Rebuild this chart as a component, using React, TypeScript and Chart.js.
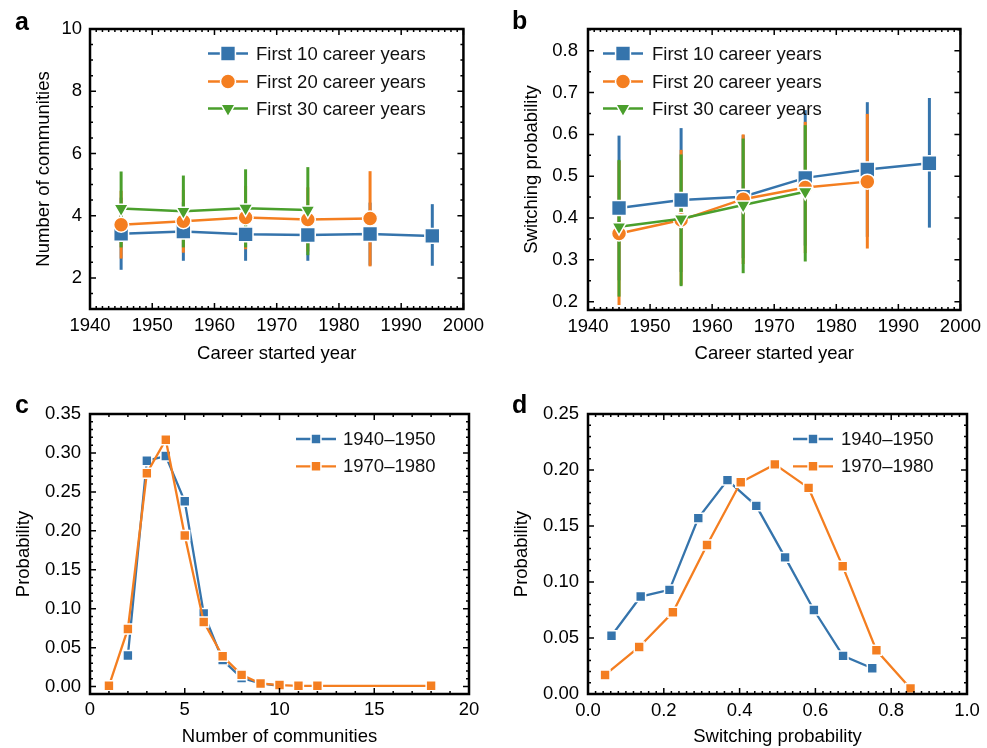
import React, { useEffect, useRef } from 'react';
import { Chart, registerables } from 'chart.js';

Chart.register(...registerables);

const FONT_FAMILY = '"Liberation Sans", Arial, Helvetica, sans-serif';
const BLUE = '#3574ac';
const ORANGE = '#f47e20';
const GREEN = '#4a9f2c';

// ---------- Panel a: number of communities vs career started year ----------
const careerStartYears = [1945, 1955, 1965, 1975, 1985, 1995];
const aFirst10Mean = [3.42, 3.49, 3.4, 3.38, 3.41, 3.35];
const aFirst10Low = [2.26, 2.55, 2.55, 2.55, 2.4, 2.39];
const aFirst10High = [4.58, 4.43, 4.25, 4.21, 4.42, 4.37];
const aFirst20Mean = [3.71, 3.82, 3.94, 3.88, 3.91];
const aFirst20Low = [2.62, 2.81, 2.92, 2.85, 2.37];
const aFirst20High = [4.8, 4.83, 4.96, 4.91, 5.43];
const aFirst30Mean = [4.23, 4.14, 4.24, 4.18];
const aFirst30Low = [2.98, 2.98, 2.98, 2.73];
const aFirst30High = [5.42, 5.29, 5.49, 5.56];

// ---------- Panel b: switching probability vs career started year ----------
const bFirst10Mean = [0.424, 0.443, 0.451, 0.496, 0.516, 0.531];
const bFirst10Low = [0.251, 0.271, 0.304, 0.334, 0.355, 0.377];
const bFirst10High = [0.597, 0.615, 0.598, 0.658, 0.677, 0.687];
const bFirst20Mean = [0.363, 0.395, 0.445, 0.473, 0.487];
const bFirst20Low = [0.192, 0.24, 0.29, 0.316, 0.327];
const bFirst20High = [0.536, 0.563, 0.6, 0.63, 0.649];
const bFirst30Mean = [0.379, 0.398, 0.431, 0.463];
const bFirst30Low = [0.212, 0.237, 0.268, 0.296];
const bFirst30High = [0.539, 0.552, 0.59, 0.622];

// ---------- Panel c: distribution of number of communities ----------
const cEarlyX = [2, 3, 4, 5, 6, 7, 8, 9, 10];
const cEarlyProb = [0.04, 0.29, 0.296, 0.238, 0.094, 0.034, 0.011, 0.004, 0.001];
const cLateX = [1, 2, 3, 4, 5, 6, 7, 8, 9, 10, 11, 12, 18];
const cLateProb = [0.001, 0.074, 0.274, 0.317, 0.194, 0.083, 0.039, 0.015, 0.004, 0.002, 0.001, 0.001, 0.001];

// ---------- Panel d: distribution of switching probability ----------
const dEarlyX = [0.062, 0.139, 0.215, 0.291, 0.368, 0.444, 0.52, 0.596, 0.673, 0.75];
const dEarlyProb = [0.052, 0.087, 0.093, 0.157, 0.191, 0.168, 0.122, 0.075, 0.034, 0.023];
const dLateX = [0.045, 0.135, 0.224, 0.314, 0.403, 0.493, 0.582, 0.672, 0.761, 0.851];
const dLateProb = [0.017, 0.042, 0.073, 0.133, 0.189, 0.205, 0.184, 0.114, 0.039, 0.005];

// ---------- Tick values & labels ----------
const yearTicks = [1940, 1950, 1960, 1970, 1980, 1990, 2000];
const yearTickLabels = ['1940', '1950', '1960', '1970', '1980', '1990', '2000'];
const aYTicks = [2, 4, 6, 8, 10];
const aYTickLabels = ['2', '4', '6', '8', '10'];
const bYTicks = [0.2, 0.3, 0.4, 0.5, 0.6, 0.7, 0.8];
const bYTickLabels = ['0.2', '0.3', '0.4', '0.5', '0.6', '0.7', '0.8'];
const cXTicks = [0, 5, 10, 15, 20];
const cXTickLabels = ['0', '5', '10', '15', '20'];
const cYTicks = [0, 0.05, 0.1, 0.15, 0.2, 0.25, 0.3, 0.35];
const cYTickLabels = ['0.00', '0.05', '0.10', '0.15', '0.20', '0.25', '0.30', '0.35'];
const dXTicks = [0, 0.2, 0.4, 0.6, 0.8, 1.0];
const dXTickLabels = ['0.0', '0.2', '0.4', '0.6', '0.8', '1.0'];
const dYTicks = [0, 0.05, 0.1, 0.15, 0.2, 0.25];
const dYTickLabels = ['0.00', '0.05', '0.10', '0.15', '0.20', '0.25'];

const seriesLabelsCareer = ['First 10 career years', 'First 20 career years', 'First 30 career years'];
const seriesLabelsPeriod = ['1940\u20131950', '1970\u20131980'];

type ErrSet = { xs: number[]; low: number[]; high: number[]; color: string };
type LegendRow = { label: string; color: string; style: string; radius: number; y: number };

type Spec = {
  letter: string;
  letterX: number;
  letterY: number;
  left: number;
  top: number;
  width: number;
  height: number;
  padTop: number;
  padRight: number;
  yAxisWidth: number;
  xAxisHeight: number;
  xMin: number;
  xMax: number;
  yMin: number;
  yMax: number;
  xTicks: number[];
  xLabels: string[];
  yTicks: number[];
  yLabels: string[];
  xMinor: number;
  yMinor: number;
  xTitle: string;
  yTitle: string;
  xTitlePad: number;
  yTitlePad: number;
  xTickPad: number;
  yTickPad: number;
  lineWidth: number;
  datasets: any[];
  errors: ErrSet[];
  legendMarkerX: number;
  legendTextX: number;
  legendRows: LegendRow[];
};

function series(label: string, xs: number[], ys: number[], color: string, style: string, radius: number, lw: number, order: number) {
  return {
    type: 'line',
    label,
    data: ys.map((y, i) => ({ x: xs[i], y })),
    borderColor: color,
    backgroundColor: color,
    borderWidth: lw,
    pointStyle: style === 'triangleDown' ? 'triangle' : style,
    rotation: style === 'triangleDown' ? 180 : 0,
    pointRotation: style === 'triangleDown' ? 180 : 0,
    pointRadius: radius,
    pointHoverRadius: radius,
    pointBackgroundColor: color,
    pointBorderColor: '#ffffff',
    pointBorderWidth: 1.5,
    tension: 0,
    clip: false,
    order,
  };
}

function drawMarker(ctx: CanvasRenderingContext2D, style: string, x: number, y: number, r: number, fill: string) {
  ctx.beginPath();
  if (style === 'rect') {
    const s = Math.SQRT1_2 * r;
    ctx.rect(x - s, y - s, 2 * s, 2 * s);
  } else if (style === 'circle') {
    ctx.arc(x, y, r, 0, Math.PI * 2);
  } else {
    ctx.moveTo(x, y + r);
    ctx.lineTo(x - 0.866 * r, y - 0.5 * r);
    ctx.lineTo(x + 0.866 * r, y - 0.5 * r);
    ctx.closePath();
  }
  ctx.fillStyle = fill;
  ctx.fill();
  ctx.strokeStyle = '#ffffff';
  ctx.lineWidth = 1.5;
  ctx.stroke();
}

function makeDecor(spec: Spec) {
  return {
    id: 'decor' + spec.letter,
    beforeDatasetsDraw(chart: any) {
      const ctx: CanvasRenderingContext2D = chart.ctx;
      const xs = chart.scales.x;
      const ys = chart.scales.y;
      ctx.save();
      ctx.lineWidth = 3;
      ctx.lineCap = 'butt';
      spec.errors.forEach((e) => {
        ctx.strokeStyle = e.color;
        e.low.forEach((lo, i) => {
          const px = xs.getPixelForValue(e.xs[i]);
          ctx.beginPath();
          ctx.moveTo(px, ys.getPixelForValue(lo));
          ctx.lineTo(px, ys.getPixelForValue(e.high[i]));
          ctx.stroke();
        });
      });
      ctx.restore();
    },
    afterDraw(chart: any) {
      const ctx: CanvasRenderingContext2D = chart.ctx;
      const ca = chart.chartArea;
      const xs = chart.scales.x;
      const ys = chart.scales.y;
      ctx.save();
      // ticks (inward, all four sides)
      ctx.strokeStyle = '#000';
      ctx.lineWidth = 1.5;
      ctx.beginPath();
      const near = (v: number, arr: number[], step: number) => arr.some((m) => Math.abs(m - v) < step * 1e-3);
      const xTick = (v: number, len: number) => {
        const p = xs.getPixelForValue(v);
        ctx.moveTo(p, ca.bottom);
        ctx.lineTo(p, ca.bottom - len);
        ctx.moveTo(p, ca.top);
        ctx.lineTo(p, ca.top + len);
      };
      const yTick = (v: number, len: number) => {
        const p = ys.getPixelForValue(v);
        ctx.moveTo(ca.left, p);
        ctx.lineTo(ca.left + len, p);
        ctx.moveTo(ca.right, p);
        ctx.lineTo(ca.right - len, p);
      };
      spec.xTicks.forEach((v) => xTick(v, 6));
      spec.yTicks.forEach((v) => yTick(v, 6));
      for (let k = Math.ceil(spec.xMin / spec.xMinor - 1e-6); k * spec.xMinor <= spec.xMax + 1e-9; k++) {
        const v = k * spec.xMinor;
        if (!near(v, spec.xTicks, spec.xMinor)) xTick(v, 3);
      }
      for (let k = Math.ceil(spec.yMin / spec.yMinor - 1e-6); k * spec.yMinor <= spec.yMax + 1e-9; k++) {
        const v = k * spec.yMinor;
        if (!near(v, spec.yTicks, spec.yMinor)) yTick(v, 3);
      }
      ctx.stroke();
      // frame
      ctx.lineWidth = 2.5;
      ctx.strokeRect(ca.left, ca.top, ca.right - ca.left, ca.bottom - ca.top);
      // legend
      spec.legendRows.forEach((row) => {
        ctx.strokeStyle = row.color;
        ctx.lineWidth = spec.lineWidth;
        ctx.beginPath();
        ctx.moveTo(spec.legendMarkerX - 20, row.y);
        ctx.lineTo(spec.legendMarkerX + 20, row.y);
        ctx.stroke();
        drawMarker(ctx, row.style, spec.legendMarkerX, row.y, row.radius, row.color);
        ctx.fillStyle = '#111';
        ctx.font = '18.5px ' + FONT_FAMILY;
        ctx.textAlign = 'left';
        ctx.textBaseline = 'middle';
        ctx.fillText(row.label, spec.legendTextX, row.y + 1);
      });
      // panel letter
      ctx.fillStyle = '#000';
      ctx.font = 'bold 25px ' + FONT_FAMILY;
      ctx.textAlign = 'left';
      ctx.textBaseline = 'alphabetic';
      ctx.fillText(spec.letter, spec.letterX, spec.letterY);
      ctx.restore();
    },
  };
}

function buildChart(canvas: HTMLCanvasElement, spec: Spec) {
  const font = { family: FONT_FAMILY, size: 18.5 };
  return new Chart(canvas, {
    type: 'line',
    data: { datasets: spec.datasets },
    options: {
      responsive: false,
      maintainAspectRatio: false,
      devicePixelRatio: 1,
      animation: false,
      layout: { padding: { top: spec.padTop, right: spec.padRight, left: 0, bottom: 0 } },
      plugins: { legend: { display: false }, tooltip: { enabled: false } },
      scales: {
        x: {
          type: 'linear',
          min: spec.xMin,
          max: spec.xMax,
          grid: { display: false, drawTicks: false },
          border: { display: false },
          afterBuildTicks: (s: any) => {
            s.ticks = spec.xTicks.map((v) => ({ value: v }));
          },
          afterFit: (s: any) => {
            s.height = spec.xAxisHeight;
          },
          ticks: {
            autoSkip: false,
            maxRotation: 0,
            padding: spec.xTickPad,
            color: '#000',
            font,
            callback: (v: any, i: number) => spec.xLabels[i],
          },
          title: {
            display: true,
            text: spec.xTitle,
            color: '#000',
            font,
            padding: { top: 0, bottom: spec.xTitlePad },
          },
        },
        y: {
          type: 'linear',
          min: spec.yMin,
          max: spec.yMax,
          grid: { display: false, drawTicks: false },
          border: { display: false },
          afterBuildTicks: (s: any) => {
            s.ticks = spec.yTicks.map((v) => ({ value: v }));
          },
          afterFit: (s: any) => {
            s.width = spec.yAxisWidth;
          },
          ticks: {
            autoSkip: false,
            padding: spec.yTickPad,
            color: '#000',
            font,
            callback: (v: any, i: number) => spec.yLabels[i],
          },
          title: {
            display: true,
            text: spec.yTitle,
            color: '#000',
            font,
            padding: { top: spec.yTitlePad, bottom: 0 },
          },
        },
      },
    } as any,
    plugins: [makeDecor(spec)],
  } as any);
}

const specs: Spec[] = [
  {
    letter: 'a', letterX: 15, letterY: 30,
    left: 0, top: 0, width: 490, height: 380,
    padTop: 29, padRight: 21, yAxisWidth: 90, xAxisHeight: 71,
    xMin: 1940, xMax: 2000, yMin: 1, yMax: 10,
    xTicks: yearTicks, xLabels: yearTickLabels, yTicks: aYTicks, yLabels: aYTickLabels,
    xMinor: 1, yMinor: 0.5,
    xTitle: 'Career started year', yTitle: 'Number of communities',
    xTitlePad: 15, yTitlePad: 33, xTickPad: 6, yTickPad: 8,
    lineWidth: 2.5,
    datasets: [
      series(seriesLabelsCareer[0], careerStartYears, aFirst10Mean, BLUE, 'rect', 10.5, 2.5, 3),
      series(seriesLabelsCareer[1], careerStartYears, aFirst20Mean, ORANGE, 'circle', 7.5, 2.5, 2),
      series(seriesLabelsCareer[2], careerStartYears, aFirst30Mean, GREEN, 'triangleDown', 8.3, 2.5, 1),
    ],
    errors: [
      { xs: careerStartYears, low: aFirst10Low, high: aFirst10High, color: BLUE },
      { xs: careerStartYears, low: aFirst20Low, high: aFirst20High, color: ORANGE },
      { xs: careerStartYears, low: aFirst30Low, high: aFirst30High, color: GREEN },
    ],
    legendMarkerX: 228, legendTextX: 256,
    legendRows: [
      { label: seriesLabelsCareer[0], color: BLUE, style: 'rect', radius: 10.5, y: 53.5 },
      { label: seriesLabelsCareer[1], color: ORANGE, style: 'circle', radius: 7.5, y: 81.5 },
      { label: seriesLabelsCareer[2], color: GREEN, style: 'triangleDown', radius: 8.3, y: 108.5 },
    ],
  },
  {
    letter: 'b', letterX: 22, letterY: 29,
    left: 490, top: 0, width: 497, height: 380,
    padTop: 29, padRight: 20, yAxisWidth: 98, xAxisHeight: 70,
    xMin: 1940, xMax: 2000, yMin: 0.18, yMax: 0.852,
    xTicks: yearTicks, xLabels: yearTickLabels, yTicks: bYTicks, yLabels: bYTickLabels,
    xMinor: 1, yMinor: 0.05,
    xTitle: 'Career started year', yTitle: 'Switching probability',
    xTitlePad: 15, yTitlePad: 31, xTickPad: 6, yTickPad: 10,
    lineWidth: 2.5,
    datasets: [
      series(seriesLabelsCareer[0], careerStartYears, bFirst10Mean, BLUE, 'rect', 10.5, 2.5, 3),
      series(seriesLabelsCareer[1], careerStartYears, bFirst20Mean, ORANGE, 'circle', 7.5, 2.5, 2),
      series(seriesLabelsCareer[2], careerStartYears, bFirst30Mean, GREEN, 'triangleDown', 8.3, 2.5, 1),
    ],
    errors: [
      { xs: careerStartYears, low: bFirst10Low, high: bFirst10High, color: BLUE },
      { xs: careerStartYears, low: bFirst20Low, high: bFirst20High, color: ORANGE },
      { xs: careerStartYears, low: bFirst30Low, high: bFirst30High, color: GREEN },
    ],
    legendMarkerX: 133, legendTextX: 162,
    legendRows: [
      { label: seriesLabelsCareer[0], color: BLUE, style: 'rect', radius: 10.5, y: 53.5 },
      { label: seriesLabelsCareer[1], color: ORANGE, style: 'circle', radius: 7.5, y: 81.5 },
      { label: seriesLabelsCareer[2], color: GREEN, style: 'triangleDown', radius: 8.3, y: 108.5 },
    ],
  },
  {
    letter: 'c', letterX: 15, letterY: 33,
    left: 0, top: 380, width: 490, height: 368,
    padTop: 34, padRight: 21, yAxisWidth: 90, xAxisHeight: 54,
    xMin: 0, xMax: 20, yMin: -0.0095, yMax: 0.35,
    xTicks: cXTicks, xLabels: cXTickLabels, yTicks: cYTicks, yLabels: cYTickLabels,
    xMinor: 1, yMinor: 0.01,
    xTitle: 'Number of communities', yTitle: 'Probability',
    xTitlePad: 0, yTitlePad: 13, xTickPad: 5, yTickPad: 9,
    lineWidth: 2.3,
    datasets: [
      series(seriesLabelsPeriod[0], cEarlyX, cEarlyProb, BLUE, 'rect', 7, 2.3, 2),
      series(seriesLabelsPeriod[1], cLateX, cLateProb, ORANGE, 'rect', 7, 2.3, 1),
    ],
    errors: [],
    legendMarkerX: 316, legendTextX: 343,
    legendRows: [
      { label: seriesLabelsPeriod[0], color: BLUE, style: 'rect', radius: 7, y: 59 },
      { label: seriesLabelsPeriod[1], color: ORANGE, style: 'rect', radius: 7, y: 86.3 },
    ],
  },
  {
    letter: 'd', letterX: 22, letterY: 33,
    left: 490, top: 380, width: 497, height: 368,
    padTop: 34, padRight: 20, yAxisWidth: 98, xAxisHeight: 54,
    xMin: 0, xMax: 1, yMin: 0, yMax: 0.25,
    xTicks: dXTicks, xLabels: dXTickLabels, yTicks: dYTicks, yLabels: dYTickLabels,
    xMinor: 0.02, yMinor: 0.01,
    xTitle: 'Switching probability', yTitle: 'Probability',
    xTitlePad: 0, yTitlePad: 21, xTickPad: 6, yTickPad: 9,
    lineWidth: 2.3,
    datasets: [
      series(seriesLabelsPeriod[0], dEarlyX, dEarlyProb, BLUE, 'rect', 7, 2.3, 2),
      series(seriesLabelsPeriod[1], dLateX, dLateProb, ORANGE, 'rect', 7, 2.3, 1),
    ],
    errors: [],
    legendMarkerX: 323, legendTextX: 351,
    legendRows: [
      { label: seriesLabelsPeriod[0], color: BLUE, style: 'rect', radius: 7, y: 59 },
      { label: seriesLabelsPeriod[1], color: ORANGE, style: 'rect', radius: 7, y: 86.3 },
    ],
  },
];

export default function App() {
  const refs = [useRef<HTMLCanvasElement>(null), useRef<HTMLCanvasElement>(null), useRef<HTMLCanvasElement>(null), useRef<HTMLCanvasElement>(null)];
  useEffect(() => {
    const charts = specs.map((s, i) => buildChart(refs[i].current as HTMLCanvasElement, s));
    return () => charts.forEach((c) => c.destroy());
  }, []);
  return (
    <div style={{ position: 'absolute', left: 0, top: 0, width: 987, height: 748, background: '#fff' }}>
      {specs.map((s, i) => (
        <canvas
          key={s.letter}
          ref={refs[i]}
          width={s.width}
          height={s.height}
          style={{ position: 'absolute', left: s.left, top: s.top, width: s.width, height: s.height }}
        />
      ))}
    </div>
  );
}
